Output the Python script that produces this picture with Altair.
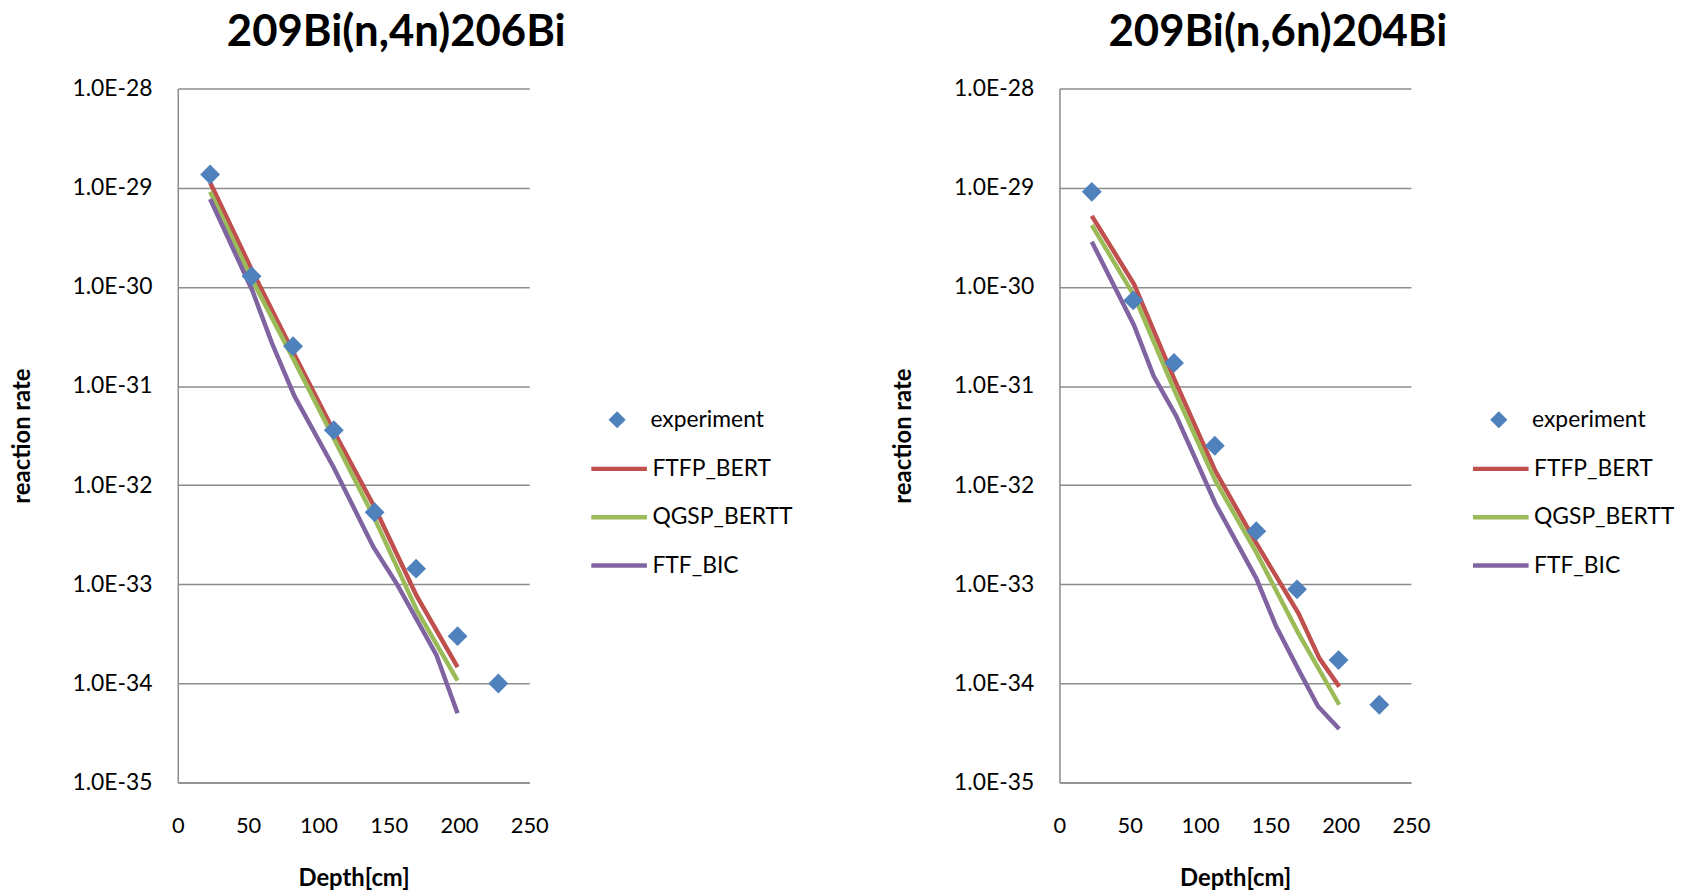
import altair as alt
import pandas as pd

# ---------------- data ----------------
titles = ["209Bi(n,4n)206Bi", "209Bi(n,6n)204Bi"]
models = ["FTFP_BERT", "QGSP_BERTT", "FTF_BIC"]
model_colors = ["#C0504D", "#9BBB59", "#8064A2"]
exp_label = "experiment"
exp_color = "#4F81BD"

# 209Bi(n,4n)206Bi
exp4_x = [23, 52.5, 82, 111, 140, 169.5, 199, 228]
exp4_y = [1.36e-29, 1.28e-30, 2.52e-31, 3.59e-32, 5.33e-33, 1.44e-33, 3.0e-34, 1.0e-34]
ftfp4_x = [23, 53, 82, 111, 140, 170, 199]
ftfp4_y = [1.13e-29, 1.45e-30, 2.2e-31, 3.5e-32, 6.0e-33, 7.6e-34, 1.46e-34]
qgsp4_x = [23, 53, 82, 111, 140, 170, 199]
qgsp4_y = [9.1e-30, 1.17e-30, 1.9e-31, 2.95e-32, 4.6e-33, 5.5e-34, 1.07e-34]
ftf4_x = [23, 53, 67, 83, 111, 139, 156, 170, 184, 199]
ftf4_y = [7.7e-30, 9.2e-31, 2.7e-31, 7.9e-32, 1.5e-32, 2.4e-33, 1.0e-33, 4.4e-34, 1.93e-34, 5.0e-35]

# 209Bi(n,6n)204Bi
exp6_x = [23, 52.5, 81.5, 110.5, 140, 169, 198.5, 227.5]
exp6_y = [9.1e-30, 7.3e-31, 1.71e-31, 2.5e-32, 3.44e-33, 8.9e-34, 1.72e-34, 6.1e-35]
ftfp6_x = [23, 53, 82, 111, 140, 170, 185, 199]
ftfp6_y = [5.2e-30, 1.07e-30, 1.15e-31, 1.38e-32, 2.6e-33, 5.1e-34, 1.78e-34, 9.3e-35]
qgsp6_x = [23, 53, 82, 111, 140, 170, 199]
qgsp6_y = [4.2e-30, 8.2e-31, 8.9e-32, 1.1e-32, 2.1e-33, 3.2e-34, 6.1e-35]
ftf6_x = [23, 53, 67, 83, 111, 140, 154, 170, 184, 199]
ftf6_y = [2.86e-30, 4.1e-31, 1.26e-31, 5.0e-32, 6.5e-33, 1.15e-33, 3.8e-34, 1.38e-34, 5.85e-35, 3.47e-35]

y_ticks = [1e-35, 1e-34, 1e-33, 1e-32, 1e-31, 1e-30, 1e-29, 1e-28]
x_ticks = [0, 50, 100, 150, 200, 250]

FONT = "Lato"
GRID = "#8C8C8C"


def lines_df(xs_list, ys_list):
    rows = []
    for i, (xs, ys) in enumerate(zip(xs_list, ys_list)):
        for j, (x, y) in enumerate(zip(xs, ys)):
            rows.append({"depth": x, "rate": y, "model": models[i], "order": j})
    return pd.DataFrame(rows)


def panel(title, ex, ey, lx, ly):
    xs = alt.X("depth:Q", scale=alt.Scale(domain=[0, 250], nice=False),
               axis=alt.Axis(values=x_ticks, title="Depth[cm]", grid=False, ticks=False,
                             labelFlush=False, labelPadding=33, titlePadding=31,
                             domainColor=GRID, domainWidth=1.5, labelFontSize=22,
                             titleFontSize=24, labelFont=FONT, titleFont=FONT,
                             labelColor="black", titleColor="black",
                             titleFontWeight="bold"))
    ys = alt.Y("rate:Q", scale=alt.Scale(type="log", domain=[1e-35, 1e-28], nice=False),
               axis=alt.Axis(values=y_ticks, title="reaction rate", grid=True, gridColor=GRID,
                             gridWidth=1.5, ticks=False, labelPadding=26, titlePadding=38,
                             domainColor=GRID, domainWidth=1.5, labelFlush=False,
                             labelExpr="'1.0E' + round(log(datum.value) / LN10)",
                             labelFontSize=23, titleFontSize=24, labelFont=FONT,
                             titleFont=FONT, labelColor="black", titleColor="black",
                             titleFontWeight="bold"))
    ldf = lines_df(lx, ly)
    lines = alt.Chart(ldf).mark_line(strokeWidth=4.5, clip=True).encode(
        x=xs, y=ys,
        color=alt.Color("model:N", title=None,
                        scale=alt.Scale(domain=models, range=model_colors),
                        legend=alt.Legend(orient="none", legendX=422, legendY=360.5,
                                          symbolType="M-1.4,0H1.4", symbolSize=1600,
                                          symbolStrokeWidth=4.5, labelOffset=11,
                                          rowPadding=13.7, padding=0, labelFontSize=23,
                                          labelFont=FONT, labelColor="black")),
        order="order:Q",
    )
    edf = pd.DataFrame({"depth": ex, "rate": ey, "series": [exp_label] * len(ex)})
    pts = alt.Chart(edf).mark_point(filled=True, shape="diamond", size=400,
                                    color=exp_color, opacity=1).encode(
        x=xs, y=ys,
        shape=alt.Shape("series:N", title=None,
                        scale=alt.Scale(domain=[exp_label], range=["diamond"]),
                        legend=alt.Legend(orient="none", legendX=431, legendY=322,
                                          symbolSize=300, symbolFillColor=exp_color,
                                          symbolStrokeColor=exp_color, labelOffset=22,
                                          padding=0, labelFontSize=23, labelFont=FONT,
                                          labelColor="black")),
    )
    return alt.layer(lines, pts).properties(
        width=354, height=699,
        title=alt.TitleParams(title, fontSize=44, font=FONT, fontWeight="bold",
                              color="black", anchor="middle", frame="group", dx=43,
                              baseline="alphabetic", offset=-12.5),
    )


left = panel(titles[0], exp4_x, exp4_y, [ftfp4_x, qgsp4_x, ftf4_x], [ftfp4_y, qgsp4_y, ftf4_y])
right = panel(titles[1], exp6_x, exp6_y, [ftfp6_x, qgsp6_x, ftf6_x], [ftfp6_y, qgsp6_y, ftf6_y])

chart = alt.hconcat(left, right, spacing=99).resolve_scale(
    color="independent", shape="independent", x="independent", y="independent"
).resolve_legend(color="independent", shape="independent").configure_view(
    stroke=None
).properties(
    padding={"left": 2, "top": 0, "right": 5, "bottom": 0}, background="white"
)

chart.save("out.html", embed_options={"renderer": "svg", "actions": False})
